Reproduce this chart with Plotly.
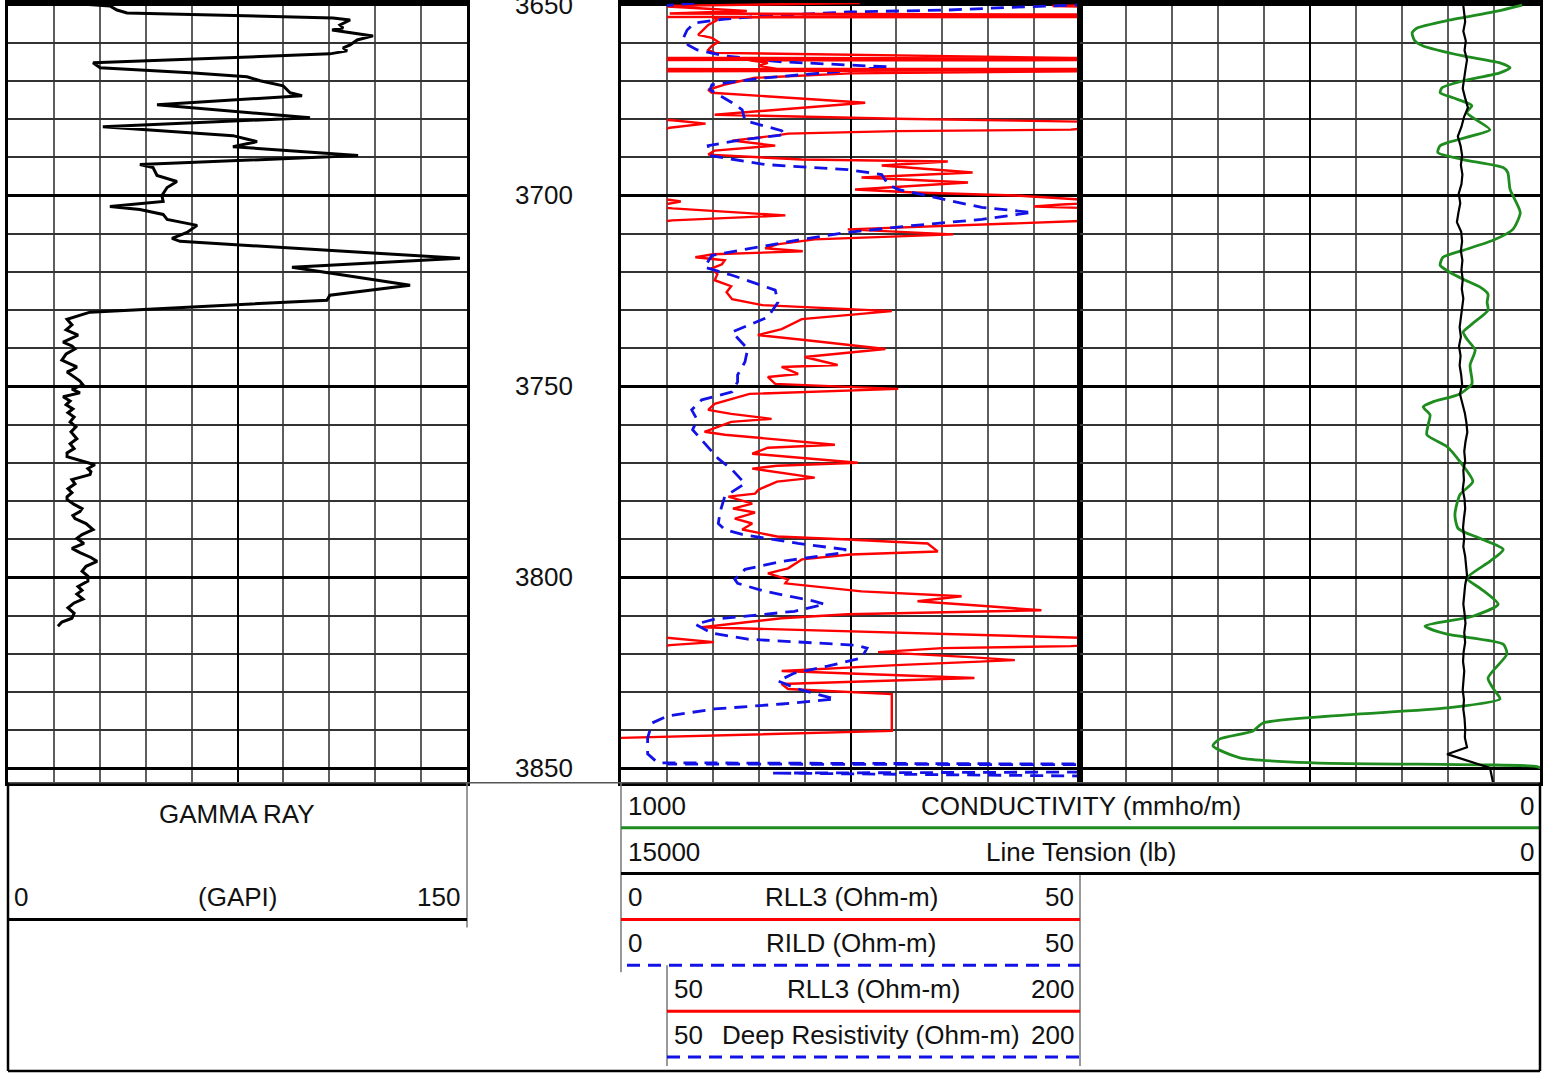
import plotly.graph_objects as go

W, H = 1554, 1073

# ---------------- data (depth in ft, value in curve units) ----------------
depth_range = [3853.8, 3649.6]
depth_ticks = [3650, 3700, 3750, 3800, 3850]

gr_scale = [0, 150]
res_scale = [0, 50]
res_backup_scale = [50, 200]
cond_scale = [1000, 0]
tens_scale = [15000, 0]

gamma_ray = [
    (3649.61, 19.3), (3650.39, 33.3), (3651.44, 35.6), (3652.22, 38.9), (3653.52, 106.2),
    (3654.05, 111.8), (3655.35, 108.5), (3656.14, 109.5), (3656.66, 105.9), (3658.22, 119.3),
    (3659.27, 114.1), (3660.58, 111.8), (3661.36, 109.5), (3662.14, 110.8), (3662.92, 105.2),
    (3665.27, 27.8), (3666.58, 30.1), (3667.89, 59.5), (3668.93, 78.1), (3669.97, 82.4),
    (3671.28, 89.9), (3673.11, 92.2), (3673.89, 96.1), (3676.24, 48.7), (3679.64, 98.7),
    (3681.99, 31.0), (3684.33, 73.5), (3685.90, 81.4), (3687.21, 73.5), (3689.56, 114.4),
    (3691.91, 43.1), (3692.69, 47.4), (3694.78, 48.7), (3696.35, 55.2), (3697.91, 52.0),
    (3700.00, 50.3), (3701.57, 50.7), (3702.87, 33.3), (3703.66, 43.1), (3704.96, 50.7),
    (3706.27, 52.0), (3707.83, 61.8), (3709.66, 58.5), (3711.23, 53.6), (3712.01, 56.2),
    (3714.36, 104.2), (3716.45, 147.7), (3718.80, 92.8), (3723.50, 131.4), (3726.11, 105.2),
    (3727.42, 104.2), (3730.55, 26.8),
    (3732.4, 19.3), (3733.9, 20.9), (3735.2, 19.0), (3736.6, 22.9), (3737.6, 20.3),
    (3738.4, 18.0), (3739.4, 20.9), (3740.2, 21.9), (3741.5, 19.0), (3743.1, 17.6),
    (3744.1, 20.3), (3744.9, 22.5), (3745.7, 20.9), (3746.2, 19.3), (3747.5, 21.6),
    (3748.6, 23.5), (3749.6, 24.5), (3750.7, 20.9), (3751.7, 23.5), (3752.7, 18.0),
    (3753.8, 20.3), (3754.8, 19.0), (3755.9, 21.2), (3756.9, 19.6), (3758.0, 21.6),
    (3759.3, 20.3), (3760.6, 22.2), (3761.9, 20.6), (3763.7, 22.5), (3765.0, 20.3),
    (3766.3, 21.6), (3767.4, 19.3), (3768.4, 19.3), (3769.5, 24.2), (3770.5, 28.4),
    (3771.5, 26.1), (3772.3, 27.1), (3773.1, 26.8), (3773.9, 22.9), (3774.4, 20.9),
    (3775.5, 21.9), (3776.8, 19.6), (3777.8, 20.9), (3778.9, 19.3), (3779.6, 19.3),
    (3780.9, 21.6), (3782.0, 24.2), (3782.8, 23.5), (3783.8, 21.2), (3784.6, 21.9),
    (3785.9, 25.5), (3787.5, 27.8), (3788.8, 24.2), (3789.8, 22.5), (3791.1, 24.8),
    (3792.4, 20.9), (3793.5, 23.5), (3794.8, 27.1), (3795.8, 29.1), (3797.1, 25.5),
    (3798.4, 24.2), (3799.7, 26.1), (3801.0, 26.1), (3802.4, 22.9), (3803.4, 24.2),
    (3804.4, 22.5), (3805.7, 24.5), (3806.7, 21.6), (3808.0, 19.6), (3809.4, 21.6),
    (3810.7, 20.9), (3811.7, 17.6), (3812.8, 16.3),
]

rll3 = [
    (3649.61, 120), (3650.13, 52), (3650.39, 47), (3650.91, 60), (3651.70, 79),
    (3652.35, 51), (3652.74, 260), (3653.39, 10), (3654.05, 10.5), (3655.35, 9.5),
    (3656.66, 8.9), (3657.96, 8.4), (3658.75, 9.9), (3659.79, 10.6), (3660.84, 9.9),
    (3661.88, 9.5), (3662.66, 10.2), (3663.45, 31), (3663.97, 49), (3664.23, 250),
    (3664.62, 14), (3665.27, 16), (3666.06, 15), (3666.84, 17), (3667.10, 250),
    (3667.49, 50), (3667.62, 41), (3668.02, 25), (3669.19, 14.6), (3671.02, 11.2),
    (3672.32, 9.5), (3673.11, 9.9), (3675.72, 26.6), (3678.85, 10.2), (3679.90, 30),
    (3680.29, 52), (3681.20, 64), (3682.25, 51), (3682.77, 49), (3683.16, 30),
    (3683.81, 18.2), (3684.33, 16.8), (3685.64, 12.1), (3686.95, 16.8), (3688.25, 10.2),
    (3689.30, 9.5), (3690.60, 19.7), (3691.12, 35.6), (3692.17, 28.4), (3694.00, 38.3),
    (3695.30, 26.2), (3696.61, 37.8), (3698.43, 25.5), (3699.22, 32.0), (3700.00, 42.9),
    (3701.04, 50), (3701.57, 55), (3702.35, 48), (3702.87, 45), (3703.39, 52),
    (3705.22, 93), (3706.53, 52), (3706.79, 49), (3708.88, 24.7), (3710.18, 36.2),
    (3711.49, 21.1), (3712.79, 17), (3713.84, 15.7), (3714.62, 19.8), (3715.40, 10),
    (3716.19, 8.1), (3716.97, 11.3), (3718.02, 11), (3719.06, 9.9), (3720.63, 10.5),
    (3722.19, 10.2), (3723.76, 12), (3725.33, 11.5), (3727.15, 12.1), (3728.72, 15.4),
    (3730.29, 29.5), (3732.38, 19.7), (3734.99, 17.5), (3736.55, 14.9), (3737.86, 20),
    (3740.21, 28.8), (3742.30, 20), (3744.39, 23.6), (3744.91, 17.5), (3746.74, 19.3),
    (3747.52, 16.0), (3749.35, 16.8), (3750.13, 24.7), (3750.65, 30.2), (3751.96, 14),
    (3754.57, 10.2), (3756.14, 9.5), (3757.18, 12), (3758.49, 16.4), (3759.27, 12),
    (3761.88, 9.1), (3762.66, 11.3), (3765.27, 23.3), (3766.06, 16), (3767.62, 14.3),
    (3769.97, 25.8), (3770.76, 17), (3771.54, 14.3), (3773.89, 21.1), (3774.93, 17),
    (3777.02, 15), (3778.07, 14.6), (3778.85, 11.7), (3780.68, 14.3), (3781.98, 12.2),
    (3783.03, 14.6), (3784.60, 12.4), (3785.90, 14.3), (3787.47, 13.2), (3789.30, 17),
    (3790.08, 24.7), (3791.12, 33.4), (3793.21, 34.5), (3794.00, 25), (3795.30, 19.7),
    (3797.65, 18.2), (3798.96, 16.0), (3800.52, 18.2), (3801.57, 17.9), (3803.66, 26.2),
    (3804.96, 37.1), (3806.27, 32.3), (3807.57, 40), (3808.62, 45.8), (3809.66, 24.7),
    (3810.70, 17.5), (3813.05, 8.8), (3815.80, 49.5), (3815.93, 52), (3816.97, 67),
    (3817.75, 51), (3818.02, 49), (3818.54, 35), (3819.58, 28.0), (3820.89, 38),
    (3821.67, 42.9), (3822.98, 30), (3824.54, 17.5), (3826.37, 38.5), (3827.94, 17.5),
    (3829.24, 18.2), (3830.55, 29.5), (3840.21, 29.5), (3842.04, 0),
]

deep_res = [
    (3649.61, 60), (3650.13, 50), (3650.78, 42), (3651.44, 35.6), (3651.96, 24.7),
    (3653.00, 15.7), (3653.79, 11.3), (3654.83, 8), (3656.66, 7.2), (3658.75, 6.8),
    (3660.58, 7.3), (3661.88, 8.3), (3663.45, 11.3), (3665.01, 17.5), (3666.32, 29.1),
    (3667.36, 24.7), (3669.19, 15.7), (3671.02, 9.9), (3672.32, 9.7), (3675.72, 12.1),
    (3677.55, 13.2), (3680.42, 13.5), (3683.03, 17.5), (3684.07, 17.9), (3685.38, 13.2),
    (3686.95, 9.5), (3689.56, 9.7), (3691.91, 15.7), (3693.21, 24.7), (3694.52, 28.4),
    (3697.13, 29.1), (3698.43, 30.2), (3700.52, 34.2), (3703.13, 39.3), (3704.44, 44.8),
    (3706.27, 39.3), (3707.83, 32), (3709.66, 24.7), (3711.49, 19.7), (3713.58, 14.9),
    (3715.67, 9.9), (3718.80, 9.1), (3720.89, 12.1), (3724.80, 16.8), (3727.94, 17.1),
    (3731.85, 16.0), (3735.77, 12.1), (3740.21, 13.8), (3743.60, 13.5), (3747.00, 12.7),
    (3748.83, 12.7), (3751.44, 12.1), (3753.52, 8.8), (3756.14, 7.7), (3758.75, 8.3),
    (3761.36, 7.8), (3765.01, 9.1), (3768.93, 10.6), (3771.80, 12.1), (3775.46, 13.5),
    (3778.85, 11.3), (3782.77, 10.8), (3785.90, 10.6), (3787.47, 11.3), (3788.77, 13.2),
    (3791.12, 19.3), (3792.69, 24.4), (3793.47, 24.4), (3795.82, 17.5), (3797.91, 13.5),
    (3800.52, 12.4), (3801.57, 12.7), (3803.66, 15.7), (3806.27, 21.1), (3807.05, 22.2),
    (3808.88, 18.9), (3810.97, 10.2), (3812.27, 8.1), (3814.62, 9.9), (3816.19, 13.8),
    (3817.75, 25.5), (3818.54, 26.8), (3821.15, 26.2), (3823.24, 22.5), (3825.07, 18.9),
    (3827.15, 17.1), (3829.24, 19.3), (3831.85, 23.3), (3833.16, 17.5), (3834.46, 10.2),
    (3836.29, 5.1), (3838.12, 3.4), (3842.04, 2.9), (3846.21, 2.9), (3848.56, 4.0),
    (3848.88, 50), (3849.09, 230), (3850.91, 230), (3851.25, 88), (3852.09, 210),
    (3853.79, 210),
]

conductivity = [
    (3650.13, 39), (3651.70, 93), (3654.05, 196), (3656.14, 267), (3657.44, 278),
    (3659.53, 272), (3660.84, 254), (3663.45, 167), (3665.27, 87), (3666.58, 65),
    (3667.89, 87), (3669.97, 167), (3671.80, 213), (3673.11, 217), (3674.41, 189),
    (3675.72, 159), (3676.50, 148), (3678.33, 159), (3682.77, 109), (3684.33, 146),
    (3686.95, 217), (3688.77, 222), (3690.60, 167), (3692.69, 80), (3694.00, 70),
    (3698.43, 65), (3704.44, 43), (3708.88, 59), (3711.75, 102), (3714.36, 167),
    (3716.19, 211), (3718.28, 217), (3720.10, 196), (3721.93, 167), (3724.02, 130),
    (3725.85, 113), (3727.94, 115), (3730.03, 113), (3733.68, 148), (3735.77, 167),
    (3737.60, 159), (3740.47, 141), (3744.39, 152), (3748.04, 148), (3749.35, 148),
    (3751.96, 174), (3754.05, 233), (3755.35, 254), (3757.44, 239), (3760.05, 243),
    (3762.66, 246), (3765.80, 202), (3769.71, 174), (3774.93, 146), (3778.33, 174),
    (3783.55, 185), (3787.21, 178), (3789.82, 130), (3792.69, 80), (3795.82, 109),
    (3800.26, 159), (3802.87, 130), (3807.05, 91), (3810.18, 146), (3812.79, 250),
    (3814.88, 202), (3817.49, 80), (3820.10, 72), (3826.37, 113), (3829.76, 98),
    (3831.85, 87), (3834.20, 202), (3838.12, 602), (3840.21, 624), (3842.30, 696),
    (3844.13, 711), (3847.26, 652), (3848.56, 493), (3849.09, 130), (3849.61, 5),
    (3851.17, -20),
]

line_tension = [
    (3649.6, 2510), (3652, 2470), (3654.5, 2440), (3657, 2500), (3659.5, 2420),
    (3662, 2460), (3664.5, 2380), (3667, 2430), (3669.5, 2470), (3672, 2520),
    (3674.5, 2440), (3677, 2350), (3679.5, 2480), (3682, 2560), (3684.5, 2680),
    (3687, 2590), (3689.5, 2540), (3692, 2580), (3694.5, 2530), (3697, 2560),
    (3699.5, 2650), (3702, 2600), (3704.5, 2660), (3707, 2710), (3709.5, 2570),
    (3712, 2540), (3714.5, 2580), (3717, 2530), (3719.5, 2560), (3722, 2520),
    (3724.5, 2550), (3727, 2500), (3729.5, 2540), (3732, 2590), (3734.5, 2620),
    (3737, 2580), (3739.5, 2640), (3742, 2590), (3744.5, 2620), (3747, 2570),
    (3749.5, 2540), (3752, 2610), (3754.5, 2520), (3757, 2450), (3759.5, 2400),
    (3762, 2370), (3764.5, 2430), (3767, 2470), (3769.5, 2440), (3772, 2500),
    (3774.5, 2480), (3777, 2520), (3779.5, 2460), (3782, 2440), (3784.5, 2480),
    (3787, 2510), (3789.5, 2470), (3792, 2500), (3794.5, 2440), (3797, 2400),
    (3799.5, 2380), (3802, 2440), (3804.5, 2470), (3807, 2500), (3809.5, 2460),
    (3812, 2430), (3814.5, 2470), (3817, 2440), (3819.5, 2490), (3822, 2510),
    (3824.5, 2470), (3827, 2500), (3829.5, 2520), (3832, 2480), (3834.5, 2500),
    (3837, 2460), (3839.5, 2440), (3842, 2450), (3844.5, 2380), (3846.3, 3030),
    (3849.9, 1630), (3853.8, 1530),
]

# ---------------- styling / geometry ----------------
FONT = "Liberation Sans, Arial, sans-serif"
FS = 26
RED = "#FF0000"
BLUE = "#1212E6"
GREEN = "#1E8C1E"
DASH = "13px,8px"


def px(x):
    return x / W


def py(y):
    return 1 - y / H


TRACK_BOTTOM = 782
ydom = [py(TRACK_BOTTOM), 1]


def unzip(pairs):
    return [p[0] for p in pairs], [p[1] for p in pairs]


def grid_x(domain, rng, major, minor, anchor):
    return dict(domain=domain, range=rng, anchor=anchor, showticklabels=False, ticks="",
                showgrid=True, gridcolor="black", gridwidth=2, dtick=major, tick0=0,
                minor=dict(dtick=minor, tick0=0, showgrid=True, gridcolor="#5e5e5e", gridwidth=1.5),
                zeroline=False, showline=True, mirror=True, linecolor="black", linewidth=2.5,
                fixedrange=True)


def grid_y(anchor):
    return dict(domain=ydom, range=depth_range, anchor=anchor, showticklabels=False, ticks="",
                showgrid=True, gridcolor="black", gridwidth=2.5, dtick=50, tick0=3650,
                minor=dict(dtick=10, tick0=3650, showgrid=True, gridcolor="#333333", gridwidth=1.5),
                zeroline=False, showline=True, mirror=True, linecolor="black", linewidth=2.5,
                fixedrange=True)


fig = go.Figure()

d, v = unzip(gamma_ray)
fig.add_trace(go.Scatter(x=v, y=d, xaxis="x", yaxis="y", mode="lines",
                         line=dict(color="black", width=3), hoverinfo="skip"))

d, v = unzip(rll3)
fig.add_trace(go.Scatter(x=v, y=d, xaxis="x2", yaxis="y2", mode="lines",
                         line=dict(color=RED, width=2.4), hoverinfo="skip"))
fig.add_trace(go.Scatter(x=v, y=d, xaxis="x3", yaxis="y3", mode="lines",
                         line=dict(color=RED, width=2.4), hoverinfo="skip"))

d, v = unzip(deep_res)
fig.add_trace(go.Scatter(x=v, y=d, xaxis="x2", yaxis="y2", mode="lines",
                         line=dict(color=BLUE, width=2.8, dash=DASH), hoverinfo="skip"))
fig.add_trace(go.Scatter(x=v, y=d, xaxis="x3", yaxis="y3", mode="lines",
                         line=dict(color=BLUE, width=2.8, dash=DASH), hoverinfo="skip"))

d, v = unzip(conductivity)
fig.add_trace(go.Scatter(x=v, y=d, xaxis="x4", yaxis="y4", mode="lines",
                         line=dict(color=GREEN, width=2.8, shape="spline", smoothing=0.6),
                         hoverinfo="skip"))

d, v = unzip(line_tension)
fig.add_trace(go.Scatter(x=v, y=d, xaxis="x5", yaxis="y4", mode="lines",
                         line=dict(color="black", width=2.2), hoverinfo="skip"))

# ---------------- header shapes ----------------
shapes = []


def hline(y, x0, x1, color="black", width=1.5, dash=None):
    ln = dict(color=color, width=width)
    if dash:
        ln["dash"] = dash
    shapes.append(dict(type="line", xref="paper", yref="paper", x0=px(x0), x1=px(x1),
                       y0=py(y), y1=py(y), line=ln))


def vline(x, y0, y1, color="black", width=1.5):
    shapes.append(dict(type="line", xref="paper", yref="paper", x0=px(x), x1=px(x),
                       y0=py(y0), y1=py(y1), line=dict(color=color, width=width)))


hline(TRACK_BOTTOM, 8, 1540, "#555555", 1.5)
vline(467, TRACK_BOTTOM, 927, "#777777", 1.5)
vline(621, TRACK_BOTTOM, 972, "#777777", 1.5)
vline(1080, 873, 1066, "#777777", 1.5)
vline(667, 965, 1066, "#777777", 1.5)
hline(919, 8, 467, "black", 3)
hline(827, 621, 1540, GREEN, 3)
hline(873, 621, 1540, "black", 3)
hline(919, 621, 1080, RED, 3)
hline(965, 627, 1080, BLUE, 3, DASH)
hline(1011, 667, 1080, RED, 3)
hline(1057, 667, 1080, BLUE, 3, DASH)
# outer frame
vline(8, TRACK_BOTTOM, 1071, "black", 2.5)
vline(1540, TRACK_BOTTOM, 1071, "black", 2.5)
hline(1071, 8, 1540, "black", 2.5)

# ---------------- text ----------------
annotations = []


def label(text, x, y, anchor="center", size=FS):
    annotations.append(dict(text=text, x=px(x), y=py(y), xref="paper", yref="paper",
                            xanchor=anchor, yanchor="middle", showarrow=False,
                            font=dict(family=FONT, size=size, color="#111111")))


for t in depth_ticks:
    annotations.append(dict(text=str(t), x=px(544), y=t, xref="paper", yref="y",
                            xanchor="center", yanchor="middle", showarrow=False,
                            font=dict(family=FONT, size=FS, color="#111111")))

label("GAMMA RAY", 237, 813)
label("0", 12, 897, "left")
label("(GAPI)", 237, 897)
label("150", 462, 897, "right")

label("1000", 626, 805, "left")
label("CONDUCTIVITY (mmho/m)", 1081, 805)
label("0", 1536, 805, "right")
label("15000", 626, 851, "left")
label("Line Tension (lb)", 1081, 851)
label("0", 1536, 851, "right")
label("0", 626, 897, "left")
label("RLL3 (Ohm-m)", 851, 897)
label("50", 1076, 897, "right")
label("0", 626, 943, "left")
label("RILD (Ohm-m)", 851, 943)
label("50", 1076, 943, "right")
label("50", 672, 989, "left")
label("RLL3 (Ohm-m)", 874, 989)
label("200", 1076, 989, "right")
label("50", 672, 1035, "left")
label("Deep Resistivity (Ohm-m)", 871, 1035)
label("200", 1076, 1035, "right")

fig.update_layout(
    width=W, height=H, margin=dict(l=0, r=0, t=0, b=0),
    paper_bgcolor="white", plot_bgcolor="rgba(0,0,0,0)", showlegend=False,
    xaxis=grid_x([px(8), px(467)], gr_scale, 75, 15, "y"),
    yaxis=grid_y("x"),
    xaxis2=grid_x([px(621), px(1080)], res_scale, 25, 5, "y2"),
    yaxis2=dict(grid_y("x2"), matches="y"),
    xaxis3=dict(domain=[px(667), px(1080)], range=res_backup_scale, anchor="y3",
                visible=False, fixedrange=True),
    yaxis3=dict(domain=ydom, range=depth_range, anchor="x3", visible=False, matches="y"),
    xaxis4=grid_x([px(1080), px(1540)], cond_scale, 500, 100, "y4"),
    yaxis4=dict(grid_y("x4"), matches="y"),
    xaxis5=dict(range=tens_scale, overlaying="x4", anchor="y4", visible=False, fixedrange=True),
    shapes=shapes,
    annotations=annotations,
)

fig.write_html(
    "out.html",
    config={"displayModeBar": False},
    post_script="document.body.style.margin='0';document.body.style.overflow='hidden';",
)
